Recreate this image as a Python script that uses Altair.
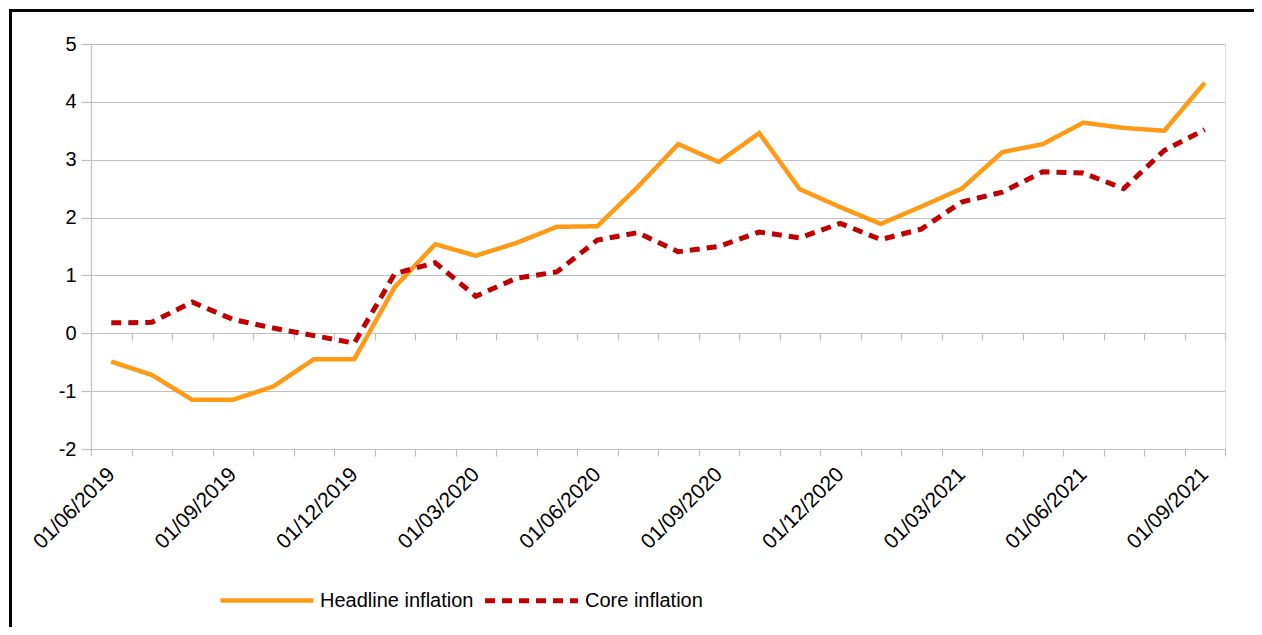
import altair as alt
import pandas as pd

months = [
    "01/06/2019", "01/07/2019", "01/08/2019", "01/09/2019", "01/10/2019", "01/11/2019", "01/12/2019",
    "01/01/2020", "01/02/2020", "01/03/2020", "01/04/2020", "01/05/2020", "01/06/2020", "01/07/2020",
    "01/08/2020", "01/09/2020", "01/10/2020", "01/11/2020", "01/12/2020",
    "01/01/2021", "01/02/2021", "01/03/2021", "01/04/2021", "01/05/2021", "01/06/2021", "01/07/2021",
    "01/08/2021", "01/09/2021",
]
headline = [-0.49, -0.72, -1.15, -1.15, -0.92, -0.45, -0.45, 0.80, 1.54, 1.34, 1.56, 1.84, 1.85, 2.53,
            3.27, 2.96, 3.46, 2.49, 2.18, 1.89, 2.19, 2.50, 3.13, 3.27, 3.64, 3.55, 3.50, 4.33]
core = [0.18, 0.19, 0.54, 0.24, 0.09, -0.04, -0.17, 1.03, 1.22, 0.64, 0.95, 1.06, 1.61, 1.74,
        1.41, 1.50, 1.75, 1.65, 1.90, 1.62, 1.80, 2.27, 2.44, 2.79, 2.77, 2.50, 3.16, 3.52]
series = ["Headline inflation", "Core inflation"]
colors = ["#ff9a17", "#c00000"]
y_ticks = [-2, -1, 0, 1, 2, 3, 4, 5]

df = pd.DataFrame(
    [{"month": m, "series": series[0], "value": v} for m, v in zip(months, headline)]
    + [{"month": m, "series": series[1], "value": v} for m, v in zip(months, core)]
)

GRID = "#c0c0c0"
FONT = "Liberation Sans"

label_expr = "indexof(['03','06','09','12'], substring(datum.label, 3, 5)) >= 0 ? datum.label : ''"

y_enc = alt.Y(
    "value:Q",
    scale=alt.Scale(domain=[-2, 5], nice=False, zero=False),
    axis=alt.Axis(values=y_ticks, title=None, grid=True, gridColor=GRID, gridWidth=1.2,
                  domainColor=GRID, domainWidth=1.2, tickColor=GRID, tickSize=10, tickWidth=1.2,
                  labelFontSize=20, labelColor="#000000", labelPadding=5, labelFont=FONT,
                  labelExpr="datum.value + ''"),
)

legend_cfg = dict(title=None, orient="none", direction="horizontal",
                  legendX=127, legendY=507, symbolType="stroke",
                  symbolSize=8650, symbolStrokeWidth=4, labelFontSize=20,
                  labelFont=FONT, labelColor="#000000", labelOffset=4,
                  columnPadding=0, labelLimit=400)

lines = alt.Chart(df).mark_line(strokeJoin="miter").encode(
    x=alt.X("month:O", sort=months, scale=alt.Scale(paddingInner=0, paddingOuter=0),
            axis=alt.Axis(title=None, orient="bottom", labelAngle=315, labelAlign="right",
                          labelBaseline="middle", labelExpr=label_expr, labelFontSize=21,
                          labelFont=FONT, labelColor="#000000", labelPadding=15,
                          tickBand="extent", tickSize=7, tickColor=GRID, tickWidth=1.2,
                          domainColor=GRID, domainWidth=1.2, labelOverlap=False)),
    y=y_enc,
    color=alt.Color("series:N", sort=series, scale=alt.Scale(domain=series, range=colors),
                    legend=alt.Legend(**legend_cfg)),
    strokeDash=alt.StrokeDash("series:N", sort=series,
                              scale=alt.Scale(domain=series, range=[[1, 0], [10, 7]]),
                              legend=alt.Legend(**legend_cfg)),
    strokeWidth=alt.StrokeWidth("series:N", scale=alt.Scale(domain=series, range=[4.5, 5]), legend=None),
)

zero_axis = alt.Chart(df).mark_point(opacity=0).encode(
    x=alt.X("month:O", sort=months, scale=alt.Scale(paddingInner=0, paddingOuter=0),
            axis=alt.Axis(title=None, labels=False, orient="bottom", offset=-116, tickBand="extent",
                          tickSize=7, tickColor=GRID, tickWidth=1.2, domainColor=GRID, domainWidth=1.2)),
    y=y_enc,
)

frame = alt.Chart(pd.DataFrame({"k": [0]})).mark_rect(fill=None, stroke="#000000", strokeWidth=3).encode(
    x=alt.value(-80.5), x2=alt.value(1300), y=alt.value(-33.5), y2=alt.value(800)
)

chart = alt.layer(frame, zero_axis, lines).resolve_axis(x="independent").properties(
    width=1134, height=405,
    padding={"left": 83, "top": 36, "right": 29, "bottom": 178},
    autosize=alt.AutoSizeParams(type="none"),
).configure_view(stroke=GRID, strokeWidth=1.2).configure(background="#ffffff")

chart.save("out.html", embed_options={"renderer": "svg", "actions": False})
